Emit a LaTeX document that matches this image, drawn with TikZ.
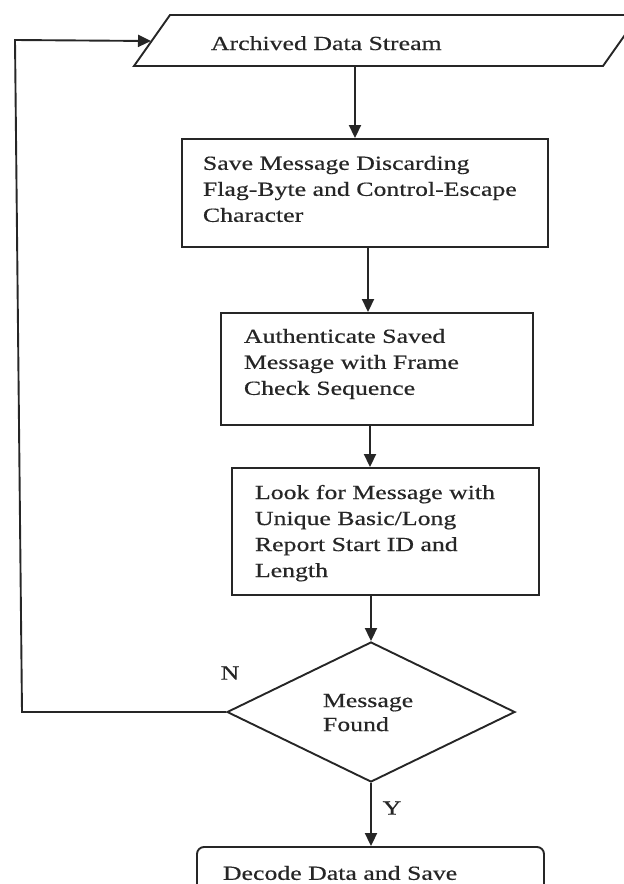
\documentclass[tikz,border=0pt]{standalone}
\usepackage{fontspec}
\setmainfont{Liberation Serif}[FakeStretch=1.29,FakeBold=0.5]
\usetikzlibrary{arrows.meta,shapes.geometric}
\begin{document}
\begin{tikzpicture}[x=1pt,y=-1pt,
  line width=1.9pt, draw=black!85,
  arr/.style={-{Triangle[length=13pt,width=12pt]}},
  boxn/.style={draw, rectangle, inner sep=0pt},
  txt/.style={anchor=north west, inner sep=0pt, align=left, text=black!85, font=\fontsize{20}{26}\selectfont},
  lbl/.style={inner sep=0pt, text=black!85, font=\fontsize{20}{26}\selectfont},
]
\useasboundingbox (0,0) rectangle (624,884);

% input parallelogram (runs off the right edge)
\coordinate (p1) at (134,66);
\coordinate (p2) at (170,15);
\coordinate (p3) at (639,15);
\coordinate (p4) at (603,66);
\draw (p1) -- (p2) -- (p3) -- (p4) -- cycle;
\node[lbl, anchor=base west] (t0) at (210,50) {Archived Data Stream};
\coordinate (pb) at (355,66);
\coordinate (pin) at (151,41);

% process boxes
\node[boxn, minimum width=366pt, minimum height=108pt] (b1) at (365,193) {};
\node[txt] (t1) at (202,155) {Save Message Discarding\\Flag-Byte and Control-Escape\\Character};

\node[boxn, minimum width=312pt, minimum height=112pt] (b2) at (377,369) {};
\node[txt] (t2) at (243,328) {Authenticate Saved\\Message with Frame\\Check Sequence};

\node[boxn, minimum width=307pt, minimum height=127pt] (b3) at (385.5,531.5) {};
\node[txt] (t3) at (254,484) {Look for Message with\\Unique Basic/Long\\Report Start ID and\\Length};

% decision
\node[draw, diamond, inner sep=0pt, minimum width=288pt, minimum height=140pt] (d) at (371,712) {};
\node[txt, font=\fontsize{20}{24}\selectfont] (td) at (322,693) {Message\\Found};

% last box (cut off at the bottom)
\node[boxn, rounded corners=7pt, minimum width=347pt, minimum height=83pt] (b5) at (370.5,888.5) {};
\node[txt] (t5) at (222,865) {Decode Data and Save};

% branch labels
\node[lbl] (ln) at (230,673) {N};
\node[lbl] (ly) at (392,808) {Y};

% arrow x positions
\coordinate (a2) at (368,0);
\coordinate (a3) at (370,0);
\coordinate (c1) at (22,712);
\coordinate (c2) at (15,40);

\draw[arr] (pb) -- (b1.north -| pb);
\draw[arr] (b1.south -| a2) -- (b2.north -| a2);
\draw[arr] (b2.south -| a3) -- (b3.north -| a3);
\draw[arr] (b3.south -| d.north) -- (d.north);
\draw[arr] (d.south) -- (d.south |- b5.north);
\draw[arr] (d.west) -- (c1) -- (c2) -- (pin);
\end{tikzpicture}
\end{document}
